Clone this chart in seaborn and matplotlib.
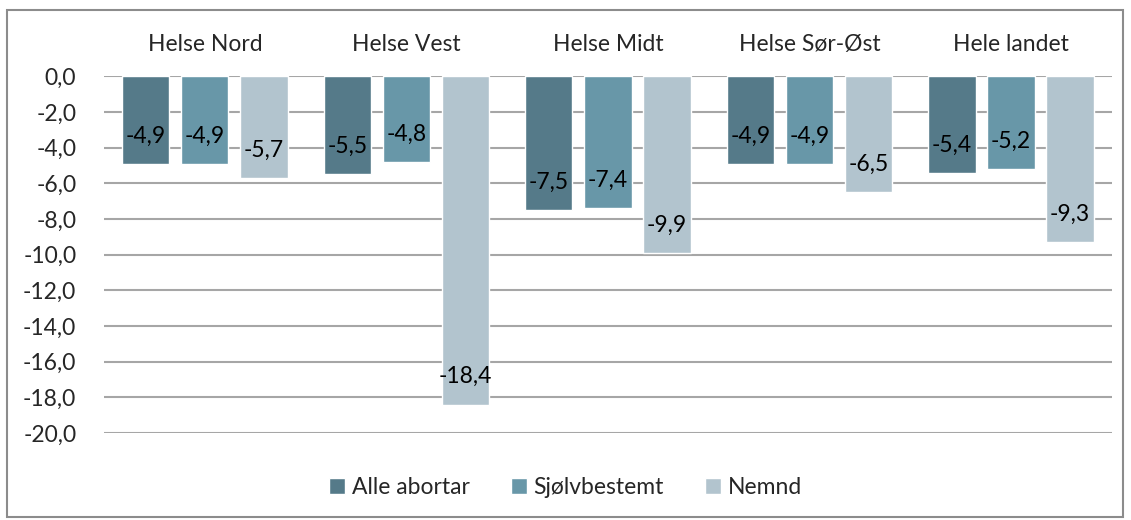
import matplotlib
matplotlib.use("Agg")
from matplotlib import pyplot as plt
from matplotlib.patches import Rectangle
import pandas as pd
import seaborn as sns

regions = ["Helse Nord", "Helse Vest", "Helse Midt", "Helse Sør-Øst", "Hele landet"]
series = ["Alle abortar", "Sjølvbestemt", "Nemnd"]
alle = [-4.9, -5.5, -7.5, -4.9, -5.4]
sjolv = [-4.9, -4.8, -7.4, -4.9, -5.2]
nemnd = [-5.7, -18.4, -9.9, -6.5, -9.3]
colors = ["#557a89", "#6897a8", "#b2c4ce"]
yticks = [0, -2, -4, -6, -8, -10, -12, -14, -16, -18, -20]

df = pd.DataFrame({
    "region": regions * 3,
    "serie": [s for s in series for _ in regions],
    "value": alle + sjolv + nemnd,
})

sns.set_style("white")
plt.rcParams['font.family'] = ['Lato', 'DejaVu Sans']
fs = 16.5

fig = plt.figure(figsize=(11.31, 5.2), dpi=100)
ax = fig.add_axes([0.092, 0.167, 0.891, 0.687])

sns.barplot(data=df, x="region", y="value", hue="serie", order=regions,
            hue_order=series, palette=colors, width=0.88, gap=0.2,
            saturation=1, ax=ax, legend=True)

# data labels just inside the bar ends
for bars in ax.containers:
    for b in bars:
        val = b.get_height()
        ax.annotate(f"{val:.1f}".replace(".", ","),
                    (b.get_x() + b.get_width() / 2, val),
                    xytext=(0, 20), textcoords="offset points",
                    ha="center", va="center", fontsize=fs, color="black")

ax.set_ylim(-20, 0.02)
ax.set_yticks(yticks)
ax.set_yticklabels([f"{t:.1f}".replace(".", ",") for t in yticks], fontsize=fs)
ax.xaxis.tick_top()
ax.tick_params(axis="x", length=0, labelsize=fs, pad=15)
ax.tick_params(axis="y", length=0, pad=20)
ax.set_xlabel("")
ax.set_ylabel("")
ax.yaxis.grid(True, color="#a6a6a6", linewidth=1.5)
ax.set_axisbelow(True)
for s in ax.spines.values():
    s.set_visible(False)

handles, labels = ax.get_legend_handles_labels()
ax.get_legend().remove()
fig.legend(handles, labels, loc="center", bbox_to_anchor=(0.5, 0.063), ncol=3,
           frameon=False, fontsize=fs, handlelength=0.7, handleheight=0.7,
           handletextpad=0.3, columnspacing=1.8)

fig.patches.append(Rectangle((7 / 1131, 3 / 520), 1116 / 1131, 507 / 520,
                             transform=fig.transFigure, fill=False,
                             edgecolor="#8c8c8c", linewidth=1.5))

fig.savefig("out.png", dpi=100)
